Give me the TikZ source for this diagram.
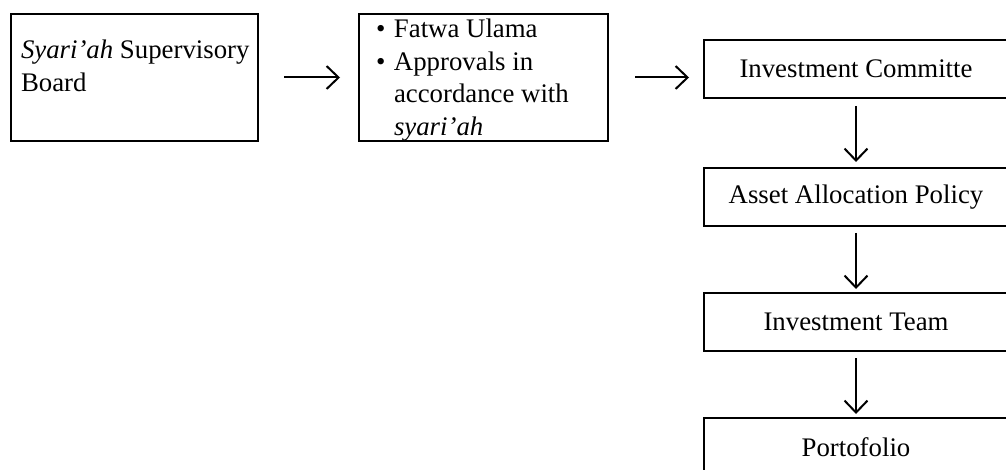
\documentclass[tikz,border=0pt]{standalone}
\usepackage{fontspec}
\setmainfont{Liberation Serif}
\usetikzlibrary{arrows.meta}

\tikzset{
	box/.style = {draw, line width = 1pt, inner sep = 0pt, font = \fontsize{13.4}{16.2}\selectfont},
	stagebox/.style = {box, minimum width = 152pt, minimum height = 29pt},
	flow/.style = {line width = 1pt, -{Straight Barb[length = 6pt, width = 11.5pt]}}
}

\begin{document}
\begin{tikzpicture}[x = 0.5pt, y = -0.5pt]

	\useasboundingbox (0, 0) rectangle (1006, 470);
	\clip (0, 0) rectangle (1006, 470);

	% Board and fatwa
	
	\node [box, anchor = north west] (board) at (10, 13)
		{\parbox[t][63.5pt][t]{123.5pt}{\leftskip = 5pt\rule{0pt}{22.5pt}\textit{Syari’ah} Supervisory\\Board}};
	
	\node [box, anchor = north west] (fatwa) at (358, 13)
		{\parbox[t][63.5pt][t]{124.5pt}{\leftskip = 8.5pt\rule{0pt}{12pt}\makebox[9pt][l]{\textbullet}Fatwa Ulama\\
			\makebox[9pt][l]{\textbullet}Approvals in\\
			\hspace*{9pt}accordance with\\
			\hspace*{9pt}\textit{syari’ah}}};
	
	% Investment chain
	
	\node [stagebox] (committee) at (856, 69) {Investment Committe};
	\node [stagebox] (allocation) at (856, 197) {Asset Allocation Policy};
	\node [stagebox] (team) at (856, 322) {Investment Team};
	\node [stagebox] (portfolio) at (856, 447) {Portofolio};
	
	% Arrows
	
	\draw [flow, shorten <= 12.5pt, shorten >= 9pt] (board.east) -- (fatwa.west);
	\draw [flow, shorten <= 13pt, shorten >= 7pt] (fatwa.east) -- (fatwa.east -| committee.west);
	
	\draw [flow, shorten <= 3.5pt, shorten >= 2.5pt] (committee) -- (allocation);
	\draw [flow, shorten <= 3pt, shorten >= 1.5pt] (allocation) -- (team);
	\draw [flow, shorten <= 3pt, shorten >= 1.5pt] (team) -- (portfolio);

\end{tikzpicture}
\end{document}
